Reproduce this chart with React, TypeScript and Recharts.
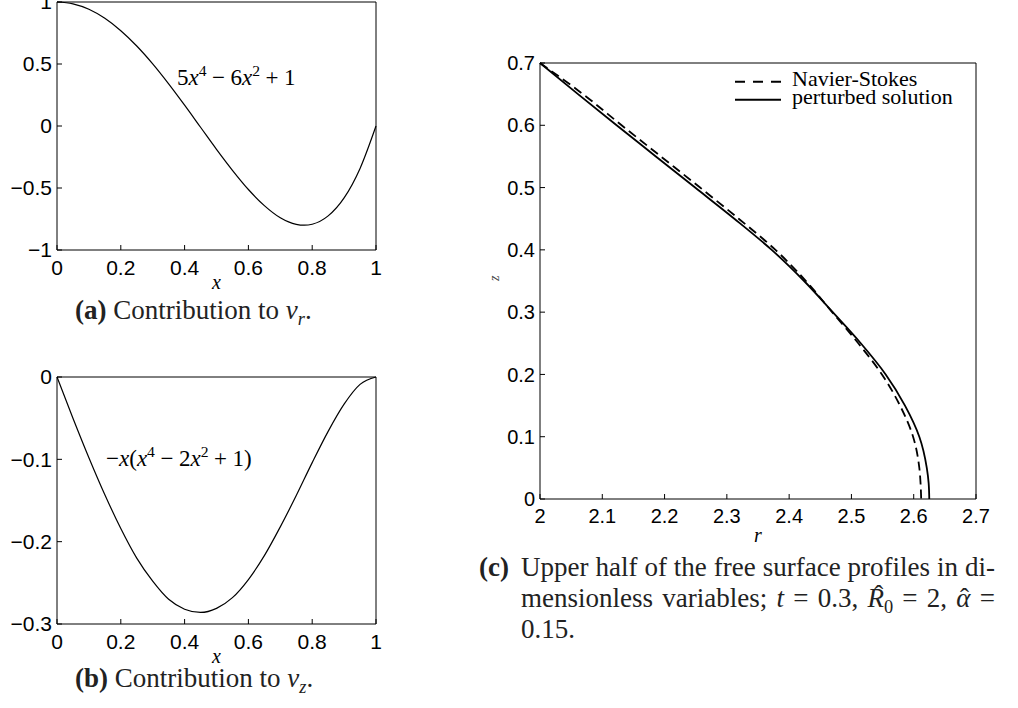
import React from 'react';
import { LineChart, Line, XAxis, YAxis, Legend } from 'recharts';

const SANS = '"Liberation Sans", Arial, Helvetica, sans-serif';
const SERIF = '"Liberation Serif", "Times New Roman", serif';

// (a) contribution to v_r
const xA = [0, 0.05, 0.1, 0.15, 0.2, 0.25, 0.3, 0.35, 0.4, 0.45, 0.5, 0.55, 0.6, 0.65, 0.7, 0.75, 0.775, 0.8, 0.85, 0.9, 0.95, 1];
const vrA = [1, 0.985, 0.941, 0.868, 0.768, 0.645, 0.501, 0.34, 0.168, -0.01, -0.188, -0.357, -0.512, -0.642, -0.74, -0.793, -0.8, -0.792, -0.725, -0.58, -0.342, 0];

// (b) contribution to v_z
const xB = [0, 0.05, 0.1, 0.15, 0.2, 0.25, 0.3, 0.35, 0.4, 0.45, 0.5, 0.55, 0.6, 0.65, 0.7, 0.75, 0.8, 0.85, 0.9, 0.95, 1];
const vzB = [0, -0.05, -0.098, -0.143, -0.184, -0.22, -0.248, -0.27, -0.282, -0.286, -0.281, -0.268, -0.246, -0.217, -0.182, -0.144, -0.104, -0.066, -0.033, -0.009, 0];

// (c) free surface profiles
const zNS = [0.7, 0.65, 0.6, 0.55, 0.5, 0.45, 0.4, 0.35, 0.3, 0.25, 0.2, 0.15, 0.1, 0.05, 0.025, 0];
const rNS = [2.0, 2.069, 2.131, 2.194, 2.257, 2.319, 2.378, 2.427, 2.469, 2.511, 2.549, 2.578, 2.599, 2.609, 2.611, 2.612];
const zPS = [0.7, 0.65, 0.6, 0.55, 0.5, 0.45, 0.4, 0.35, 0.3, 0.25, 0.2, 0.15, 0.1, 0.05, 0.025, 0];
const rPS = [2.0, 2.061, 2.123, 2.186, 2.249, 2.312, 2.372, 2.424, 2.47, 2.515, 2.555, 2.586, 2.609, 2.621, 2.624, 2.625];

// tick values
const ticksX01 = [0, 0.2, 0.4, 0.6, 0.8, 1];
const ticksA = [-1, -0.5, 0, 0.5, 1];
const ticksB = [-0.3, -0.2, -0.1, 0];
const ticksR = [2, 2.1, 2.2, 2.3, 2.4, 2.5, 2.6, 2.7];
const ticksZ = [0, 0.1, 0.2, 0.3, 0.4, 0.5, 0.6, 0.7];

const seriesNames = ['Navier-Stokes', 'perturbed solution'];

const dataA = xA.map((x, i) => ({ x, y: vrA[i] }));
const dataB = xB.map((x, i) => ({ x, y: vzB[i] }));
const dataNS = zNS.map((z, i) => ({ r: rNS[i], z }));
const dataPS = zPS.map((z, i) => ({ r: rPS[i], z }));

const fmt = (v: number) => String(v).replace('-', '\u2212');
const ink = { stroke: '#000', strokeWidth: 1 };

// box axes MATLAB-style: inward ticks on all four sides, labels only bottom/left
// (top/right axes get 1px of room, an axis of size 0 is not drawn)
function boxAxes(o: {
  key: string; xTicks: number[]; yTicks: number[]; xDom: number[]; yDom: number[];
  font: number; xH: number; yW: number; xLabel: string; xLabelOff: number; yLabel?: any;
}) {
  const tick = { fill: '#000', fontSize: o.font, fontFamily: SANS };
  const axLabel = { value: o.xLabel, position: 'insideTop', offset: o.xLabelOff, fontSize: 20, fontStyle: 'italic', fontFamily: SERIF, fill: '#000' };
  return [
    <XAxis key="xb" xAxisId="b" dataKey={o.key} type="number" domain={o.xDom} ticks={o.xTicks} interval={0}
      tickFormatter={fmt} tick={tick} tickSize={-5} tickMargin={15} axisLine={ink} tickLine={ink}
      height={o.xH} label={axLabel} />,
    <XAxis key="xt" xAxisId="t" orientation="top" dataKey={o.key} type="number" domain={o.xDom} ticks={o.xTicks}
      interval={0} allowDataOverflow tick={false} tickSize={-5} axisLine={ink} tickLine={ink} height={1} />,
    <YAxis key="yl" yAxisId="l" type="number" domain={o.yDom} ticks={o.yTicks} interval={0}
      tickFormatter={fmt} tick={tick} tickSize={-5} tickMargin={10} axisLine={ink} tickLine={ink}
      width={o.yW} label={o.yLabel} />,
    <YAxis key="yr" yAxisId="r" orientation="right" type="number" domain={o.yDom} ticks={o.yTicks} interval={0}
      allowDataOverflow tick={false} tickSize={-5} axisLine={ink} tickLine={ink} width={1} />,
  ];
}

const Sup = ({ children }: { children: React.ReactNode }) => (
  <span style={{ fontSize: '0.68em', verticalAlign: '0.55em', lineHeight: 0 }}>{children}</span>
);
const Sub = ({ children }: { children: React.ReactNode }) => (
  <span style={{ fontSize: '0.68em', verticalAlign: '-0.3em', lineHeight: 0 }}>{children}</span>
);
// letter with a circumflex drawn above it
const Hat = ({ children, up = 0.3, shift = 0 }: { children: React.ReactNode; up?: number; shift?: number }) => (
  <span style={{ display: 'inline-block', textAlign: 'center', textAlignLast: 'center', lineHeight: 1 }}>
    <span style={{ display: 'block', height: 0, position: 'relative', top: `-${up}em`, left: shift, lineHeight: 1 }}>
      {'\u02C6'}
    </span>
    <i>{children}</i>
  </span>
);
const Op = ({ children }: { children: React.ReactNode }) => (
  <span style={{ margin: '0 0.24em' }}>{children}</span>
);

const renderLegend = (props: any) => {
  const payload = props.payload || [];
  return (
    <div style={{ fontFamily: SERIF, fontSize: 22, color: '#000' }}>
      {payload.map((e: any, i: number) => (
        <div key={i} style={{ display: 'flex', alignItems: 'center', height: 17.5 }}>
          <svg width={46} height={17.5} style={{ display: 'block' }}>
            <line x1={0} x2={46} y1={8.75} y2={8.75} stroke="#000" strokeWidth={1.8}
              strokeDasharray={e.payload && e.payload.strokeDasharray ? '10 8' : undefined} />
          </svg>
          <span style={{ marginLeft: 11, lineHeight: '17.5px', position: 'relative', top: -3, whiteSpace: 'nowrap' }}>
            {e.value}
          </span>
        </div>
      ))}
    </div>
  );
};

const capStyle = (left: number, top: number): React.CSSProperties => ({
  position: 'absolute', left, top, fontFamily: SERIF, fontSize: 27, lineHeight: '27px', color: '#222', whiteSpace: 'nowrap',
});
const bodyLine = (top: number, justify: boolean): React.CSSProperties => ({
  ...capStyle(521, top), width: 474, textAlign: justify ? 'justify' : 'left', textAlignLast: justify ? 'justify' : 'left',
});

export default function App() {
  return (
    <div style={{ position: 'absolute', left: 0, top: 0, width: 1018, height: 708, background: '#fff', overflow: 'hidden' }}>
      {/* (a) */}
      <div style={{ position: 'absolute', left: 0, top: 0 }}>
        <LineChart width={400} height={300} data={dataA} margin={{ top: 1, right: 23, bottom: 0, left: 0 }}>
          {boxAxes({ key: 'x', xTicks: ticksX01, yTicks: ticksA, xDom: [0, 1], yDom: [-1, 1], font: 21, xH: 50, yW: 57, xLabel: 'x', xLabelOff: 25 })}
          <Line xAxisId="b" yAxisId="l" dataKey="y" type="monotone" stroke="#000" strokeWidth={1.2} dot={false} isAnimationActive={false} />
        </LineChart>
      </div>
      <div style={{ position: 'absolute', left: 177, top: 65.7, fontFamily: SERIF, fontSize: 23, lineHeight: '23px', whiteSpace: 'nowrap' }}>
        5<i>x</i><Sup>4</Sup><Op>{'\u2212'}</Op>6<i>x</i><Sup>2</Sup><Op>+</Op>1
      </div>
      <div style={capStyle(75, 297.4)}>
        <b>(a)</b> Contribution to <i>v</i><Sub><i>r</i></Sub>.
      </div>

      {/* (b) */}
      <div style={{ position: 'absolute', left: 0, top: 330 }}>
        <LineChart width={400} height={378} data={dataB} margin={{ top: 46, right: 23, bottom: 0, left: 0 }}>
          {boxAxes({ key: 'x', xTicks: ticksX01, yTicks: ticksB, xDom: [0, 1], yDom: [-0.3, 0], font: 21, xH: 84, yW: 57, xLabel: 'x', xLabelOff: 25 })}
          <Line xAxisId="b" yAxisId="l" dataKey="y" type="monotone" stroke="#000" strokeWidth={1.2} dot={false} isAnimationActive={false} />
        </LineChart>
      </div>
      <div style={{ position: 'absolute', left: 106, top: 447.4, fontFamily: SERIF, fontSize: 23, lineHeight: '23px', whiteSpace: 'nowrap' }}>
        {'\u2212'}<i>x</i>(<i>x</i><Sup>4</Sup><Op>{'\u2212'}</Op>2<i>x</i><Sup>2</Sup><Op>+</Op>1)
      </div>
      <div style={capStyle(75, 665.4)}>
        <b>(b)</b> Contribution to <i>v</i><Sub><i>z</i></Sub>.
      </div>

      {/* (c) */}
      <div style={{ position: 'absolute', left: 440, top: 0 }}>
        <LineChart width={578} height={560} margin={{ top: 62, right: 41, bottom: 0, left: 0 }}>
          {boxAxes({
            key: 'r', xTicks: ticksR, yTicks: ticksZ, xDom: [2, 2.7], yDom: [0, 0.7], font: 20, xH: 61, yW: 100,
            xLabel: 'r', xLabelOff: 29,
            yLabel: { value: 'z', angle: -90, position: 'insideLeft', offset: 54, fontSize: 14, fontStyle: 'italic', fontFamily: SERIF, fill: '#444' },
          })}
          <Line xAxisId="b" yAxisId="l" data={dataNS} dataKey="z" name={seriesNames[0]} type="monotoneY" stroke="#000"
            strokeWidth={1.8} strokeDasharray="9 5" dot={false} isAnimationActive={false} />
          <Line xAxisId="b" yAxisId="l" data={dataPS} dataKey="z" name={seriesNames[1]} type="monotoneY" stroke="#000"
            strokeWidth={1.8} dot={false} isAnimationActive={false} />
          <Legend layout="vertical" align="center" verticalAlign="middle" content={renderLegend}
            wrapperStyle={{ left: 295, top: 73, width: 'auto', height: 'auto' }} />
        </LineChart>
      </div>
      <div style={capStyle(479, 554.4)}><b>(c)</b></div>
      <div style={bodyLine(554.4, true)}>Upper half of the free surface profiles in di-</div>
      <div style={bodyLine(585.4, true)}>
        mensionless variables; <i>t</i> = 0.3, <Hat up={0.12} shift={3}>R</Hat><Sub>0</Sub> = 2, <Hat up={-0.05} shift={1}>{'\u03B1'}</Hat> =
      </div>
      <div style={bodyLine(616.4, false)}>0.15.</div>
    </div>
  );
}
